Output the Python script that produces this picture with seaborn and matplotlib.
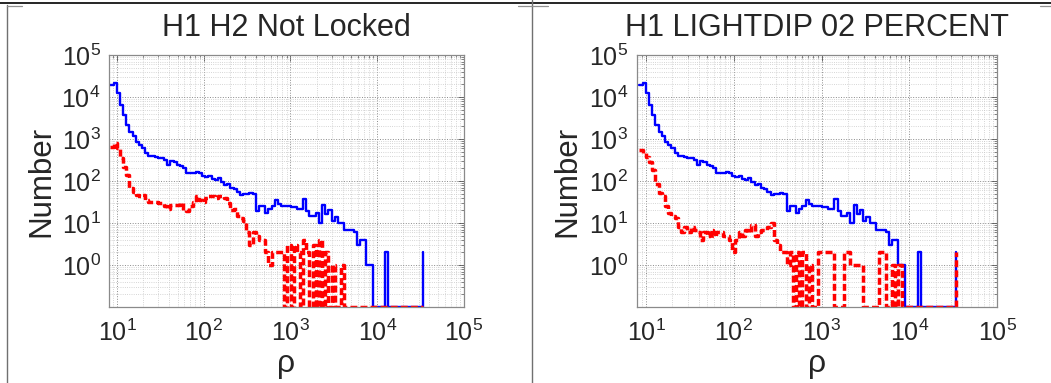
import numpy as np
import pandas as pd
import matplotlib
matplotlib.use("Agg")
import matplotlib.pyplot as plt
import seaborn as sns
from matplotlib.lines import Line2D
from matplotlib.ticker import LogLocator, FixedLocator, FuncFormatter, NullFormatter

# ---------------- data ----------------
titles = ["H1 H2 Not Locked", "H1 LIGHTDIP 02 PERCENT"]
x_label = "\u03c1"
y_label = "Number"

rho_first = 8.4      # first bin
rho_last = 33900.0   # last bin
n_bins = 100

all_counts = [19500, 21900, 12300, 6460, 3720, 2140, 1480, 1150, 870, 720,
              600, 460, 400, 400, 370, 355, 355, 316, 240, 295,
              282, 240, 229, 200, 151, 151, 151, 166, 151, 132,
              126, 132, 112, 105, 115, 95, 79, 85, 68, 63,
              56, 47, 50, 50, 51, 50, 19, 25, 25, 17,
              22, 25, 35, 28, 25, 25, 25, 24, 24, 22,
              22, 38, 19, 15, 15, 17, 10, 27, 16, 20,
              11, 14, 10, 10, 7, 7, 7, 6, 3, 4,
              4, 1, 1, 0, 0, 0, 0, 2, 0, 0,
              0, 0, 0, 0, 0, 0, 0, 0, 0, 2]

vetoed_notlocked = [660, 790, 600, 350, 220, 138, 68, 56, 47, 43,
                    47, 35, 32, 32, 32, 30, 30, 25, 22, 27,
                    27, 27, 30, 20, 19, 25, 32, 43, 35, 32,
                    39, 43, 43, 39, 43, 43, 39, 30, 20, 22,
                    15, 13, 11, 6, 3, 6, 5, 4, 4, 2,
                    1, 2, 2, 2, 2, 0, 3, 0, 3, 2,
                    0, 4, 2, 0, 3, 0, 4, 0, 2, 0,
                    1, 0, 0, 1, 0, 0, 0, 0, 0, 0,
                    0, 0, 0, 0, 0, 0, 0, 0, 0, 0,
                    0, 0, 0, 0, 0, 0, 0, 0, 0, 0]

vetoed_lightdip = [550, 460, 380, 290, 180, 87, 51, 43, 25, 17,
                   15, 13, 8, 6, 8, 6, 8, 7, 6, 4,
                   6, 5, 7, 5, 6, 6, 5, 5, 4, 2,
                   4, 6, 5, 7, 6, 9, 5, 6, 7, 7,
                   8, 10, 4, 3, 2, 2, 1, 2, 0, 2,
                   0, 2, 0, 1, 0, 0, 2, 2, 2, 2,
                   2, 0, 0, 0, 2, 2, 1, 1, 1, 1,
                   0, 0, 0, 0, 0, 2, 2, 0, 0, 1,
                   0, 1, 0, 0, 0, 0, 0, 0, 0, 0,
                   0, 0, 0, 0, 0, 0, 0, 0, 0, 2]

y_ticks = [1e0, 1e1, 1e2, 1e3, 1e4, 1e5]
x_ticks = [1e1, 1e2, 1e3, 1e4, 1e5]

# ---------------- style ----------------
sns.set_theme(style="white")
plt.rcParams["font.family"] = ["Liberation Sans", "DejaVu Sans"]
plt.rcParams["mathtext.fontset"] = "custom"
plt.rcParams["mathtext.rm"] = "Liberation Sans"
plt.rcParams["mathtext.default"] = "regular"

W, H = 1051, 383
fig = plt.figure(figsize=(W / 100, H / 100), dpi=100)
fig.patch.set_facecolor("white")

def px_rect(l, r, t, b):
    return [l / W, 1 - b / H, (r - l) / W, (b - t) / H]

axes_px = [(109, 464, 55, 307), (636.7, 997.3, 55, 307)]
ylabel_x = [41, 567.5]
xlims = [(10 ** 0.908, 1e5), (10 ** 0.894, 1e5)]
y_floor = 0.1

rho = np.logspace(np.log10(rho_first), np.log10(rho_last), n_bins)

def fmt(v, p):
    return r"$10^{%d}$" % int(round(np.log10(v)))

for k, (veto, title) in enumerate(zip([vetoed_notlocked, vetoed_lightdip], titles)):
    l, r, t, b = axes_px[k]
    ax = fig.add_axes(px_rect(l, r, t, b))
    df = pd.DataFrame({"rho": rho,
                       "all": np.maximum(np.array(all_counts, float), y_floor),
                       "veto": np.maximum(np.array(veto, float), y_floor)})
    sns.lineplot(data=df, x="rho", y="all", ax=ax, color="#0000ff", lw=1.7,
                 drawstyle="steps-post", estimator=None, sort=False)
    sns.lineplot(data=df, x="rho", y="veto", ax=ax, color="#ff0000", lw=2.5,
                 linestyle=(0, (2.0, 0.9)), drawstyle="steps-post",
                 estimator=None, sort=False)
    ax.set_xscale("log")
    ax.set_yscale("log")
    ax.set_xlim(*xlims[k])
    ax.set_ylim(y_floor, 1e5)
    ax.xaxis.set_major_locator(FixedLocator(x_ticks))
    ax.yaxis.set_major_locator(FixedLocator(y_ticks))
    ax.xaxis.set_minor_locator(LogLocator(base=10, subs=np.arange(2, 10), numticks=30))
    ax.yaxis.set_minor_locator(LogLocator(base=10, subs=np.arange(2, 10), numticks=30))
    ax.xaxis.set_major_formatter(FuncFormatter(fmt))
    ax.yaxis.set_major_formatter(FuncFormatter(fmt))
    ax.xaxis.set_minor_formatter(NullFormatter())
    ax.yaxis.set_minor_formatter(NullFormatter())
    ax.grid(True, which="major", ls=":", color="#8a8a8a", lw=0.7)
    ax.grid(True, which="minor", ls=":", color="#c8c8c8", lw=0.6)
    ax.set_axisbelow(True)
    for s in ax.spines.values():
        s.set_color("#8a8a8a")
        s.set_linewidth(0.9)
    ax.tick_params(which="both", direction="in", top=True, right=True, color="#555555")
    ax.tick_params(which="major", length=4, width=0.6)
    ax.tick_params(which="minor", length=2, width=0.5)
    ax.tick_params(axis="y", which="major", labelsize=18, pad=6)
    ax.tick_params(axis="x", which="major", labelsize=18, pad=9)
    ax.set_xlabel(x_label, fontsize=23, va="center", ha="center")
    ax.xaxis.set_label_coords(0.5, (b - 364) / (b - t))
    ax.set_ylabel(y_label, fontsize=22.5, va="center", ha="center")
    ax.yaxis.set_label_coords((ylabel_x[k] - l) / (r - l), 0.5)
    ax.set_title(title, fontsize=22, pad=14)

# frame lines around the panels (figure pixels)
def fline(x0, y0, x1, y1, color, lw):
    fig.add_artist(Line2D([x0 / W, x1 / W], [1 - y0 / H, 1 - y1 / H],
                          transform=fig.transFigure, color=color, lw=lw))

fline(0, 2.5, W, 2.5, "black", 1.2)
fline(6.7, 5, 6.7, H, "#707070", 1.0)
fline(532.3, 0, 532.3, H, "#707070", 1.0)
fline(7, 6, 22, 6, "#909090", 0.9)
fline(518, 6, 548, 6, "#909090", 0.9)
fline(1040, 6, W, 6, "#909090", 0.9)

fig.savefig("out.png", dpi=100)
